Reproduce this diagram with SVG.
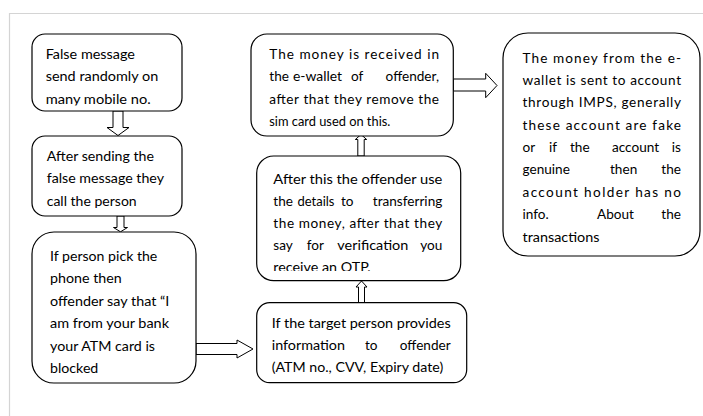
<svg xmlns="http://www.w3.org/2000/svg" width="703" height="416" viewBox="0 0 703 416">
<style>
.t{font-family:Lato,"Liberation Sans",sans-serif;font-size:13.6px;fill:#000}
.e{text-anchor:end}
.box{fill:#fff;stroke:#000;stroke-width:1.2}
.arr{fill:#fff;stroke:#000;stroke-width:1}
.frame{fill:none;stroke:#d4d4d4;stroke-width:1.2}
</style>
<defs>
<clipPath id="c1"><rect x="32" y="34" width="150" height="71.5"/></clipPath>
<clipPath id="c5"><rect x="256" y="156" width="205" height="115"/></clipPath>
</defs>
<rect width="703" height="416" fill="#fff"/>
<path class="frame" d="M9.5 416 V13.5 H703"/>

<g id="connectors">
<path class="arr" d="M113 111 V127.5 H107 L118 135.5 L129 127.5 H123 V111 Z"/>
<path class="arr" d="M117 216 V227.5 H113.5 L120.5 231.8 L127.5 227.5 H124 V216 Z"/>
<path class="arr" d="M196 343.5 H237 V340 L253 349 L237 358 V354.5 H196 Z"/>
<path class="arr" d="M358.5 302.7 V287 H356 L361.5 281 L367 287 H364.5 V302.7 Z"/>
<path class="arr" d="M357.8 156 V139.5 H355.3 L361 134.5 L366.7 139.5 H364.2 V156 Z"/>
<path class="arr" d="M453.3 79 H485.7 V73.3 L497 85.5 L485.7 97.7 V91 H453.3 Z"/>
</g>

<g id="n1">
<rect class="box" x="32" y="34" width="150" height="77" rx="13"/>
<text class="t" x="45.7" y="58.7" textLength="89.3" lengthAdjust="spacingAndGlyphs">False message</text>
<text class="t" x="45.7" y="81.1" textLength="112.6" lengthAdjust="spacingAndGlyphs">send randomly on</text>
<text class="t" x="45.7" y="103.5" textLength="105" lengthAdjust="spacingAndGlyphs" clip-path="url(#c1)">many mobile no.</text>
</g>

<g id="n2">
<rect class="box" x="32" y="136" width="150" height="80" rx="13"/>
<text class="t" x="46.7" y="160.7" textLength="107.3" lengthAdjust="spacingAndGlyphs">After sending the</text>
<text class="t" x="46.7" y="183.1" textLength="117.3" lengthAdjust="spacingAndGlyphs">false message they</text>
<text class="t" x="46.7" y="205.5" textLength="90" lengthAdjust="spacingAndGlyphs">call the person</text>
</g>

<g id="n3">
<rect class="box" x="32" y="232" width="164" height="151" rx="22"/>
<text class="t" x="50" y="261" textLength="107.3" lengthAdjust="spacingAndGlyphs">If person pick the</text>
<text class="t" x="50" y="283.4" textLength="71.7" lengthAdjust="spacingAndGlyphs">phone then</text>
<text class="t" x="50" y="305.8" textLength="119.3" lengthAdjust="spacingAndGlyphs">offender say that “I</text>
<text class="t" x="50" y="328.2" textLength="119" lengthAdjust="spacingAndGlyphs">am from your bank</text>
<text class="t" x="50" y="350.6" textLength="105" lengthAdjust="spacingAndGlyphs">your ATM card is</text>
<text class="t" x="50" y="373" textLength="48.3" lengthAdjust="spacingAndGlyphs">blocked</text>
</g>

<g id="n4">
<rect class="box" x="256.7" y="302.7" width="210" height="80" rx="13"/>
<text class="t" x="271.7" y="327.7" textLength="179" lengthAdjust="spacingAndGlyphs">If the target person provides</text>
<text class="t" x="271.7" y="350" textLength="73.3" lengthAdjust="spacingAndGlyphs">information</text>
<text class="t" x="365" y="350">to</text>
<text class="t e" x="450.7" y="350">offender</text>
<text class="t" x="271.7" y="372.3" textLength="171.6" lengthAdjust="spacingAndGlyphs">(ATM no., CVV, Expiry date)</text>
</g>

<g id="n5">
<rect class="box" x="256.7" y="156" width="204" height="124.7" rx="17"/>
<text class="t" x="273.3" y="183.5" textLength="169" lengthAdjust="spacingAndGlyphs">After this the offender use</text>
<text class="t" x="273.3" y="205.8">the</text>
<text class="t" x="297.5" y="205.8" textLength="37" lengthAdjust="spacingAndGlyphs">details</text>
<text class="t" x="341" y="205.8">to</text>
<text class="t e" x="442.3" y="205.8">transferring</text>
<text class="t" x="273.3" y="228.1" textLength="169" lengthAdjust="spacing">the money, after that they</text>
<text class="t" x="273.3" y="250.4">say</text>
<text class="t" x="306.7" y="250.4">for</text>
<text class="t" x="337.3" y="250.4" textLength="71" lengthAdjust="spacingAndGlyphs">verification</text>
<text class="t e" x="442.3" y="250.4">you</text>
<text class="t" x="273.3" y="272.2" textLength="97.4" lengthAdjust="spacingAndGlyphs" clip-path="url(#c5)">receive an OTP.</text>
</g>

<g id="n6">
<rect class="box" x="251" y="34" width="202.3" height="102" rx="16"/>
<text class="t" x="269.3" y="58.7" textLength="169.7" lengthAdjust="spacing">The money is received in</text>
<text class="t" x="269.3" y="81.1">the</text>
<text class="t" x="293" y="81.1" textLength="49" lengthAdjust="spacingAndGlyphs">e-wallet</text>
<text class="t" x="351" y="81.1">of</text>
<text class="t e" x="439" y="81.1">offender,</text>
<text class="t" x="269.3" y="103.5" textLength="169.7" lengthAdjust="spacing">after that they remove the</text>
<text class="t" x="269.3" y="125.9" textLength="121" lengthAdjust="spacingAndGlyphs">sim card used on this.</text>
</g>

<g id="n7">
<rect class="box" x="503" y="33" width="197" height="223" rx="25"/>
<text class="t" x="522.5" y="62.7" textLength="158.5" lengthAdjust="spacing">The money from the e-</text>
<text class="t" x="522.5" y="85.05" textLength="158.5" lengthAdjust="spacing">wallet is sent to account</text>
<text class="t" x="522.5" y="107.4" textLength="158.5" lengthAdjust="spacing">through IMPS, generally</text>
<text class="t" x="522.5" y="129.75" textLength="158.5" lengthAdjust="spacing">these account are fake</text>
<text class="t" x="522.5" y="152.1">or</text>
<text class="t" x="549" y="152.1">if</text>
<text class="t" x="570" y="152.1">the</text>
<text class="t" x="612" y="152.1">account</text>
<text class="t e" x="681" y="152.1">is</text>
<text class="t" x="522.5" y="174.45">genuine</text>
<text class="t" x="610" y="174.45">then</text>
<text class="t e" x="681" y="174.45">the</text>
<text class="t" x="522.5" y="196.8" textLength="158.5" lengthAdjust="spacing">account holder has no</text>
<text class="t" x="522.5" y="219.15">info.</text>
<text class="t" x="597" y="219.15">About</text>
<text class="t e" x="681" y="219.15">the</text>
<text class="t" x="522.5" y="241.5" textLength="77" lengthAdjust="spacingAndGlyphs">transactions</text>
</g>
</svg>
